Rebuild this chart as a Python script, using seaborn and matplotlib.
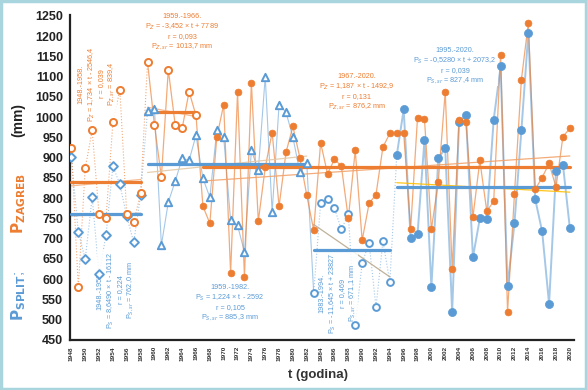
import numpy as np
import pandas as pd
import matplotlib
matplotlib.use("Agg")
import matplotlib.pyplot as plt
import seaborn as sns
from matplotlib.patches import Rectangle

# ---------------- data ----------------
years = list(range(1948, 2021))

zagreb = [923, 580, 874, 967, 760, 750, 987, 1067, 760, 741, 812,
          1135, 980, 852, 1117, 980, 972, 1063, 1004,
          780, 738, 950, 1031, 615, 1061, 605, 1085, 743, 876,
          962, 780, 913, 977, 900, 807, 721, 937, 860, 896,
          879, 750, 918, 696, 787, 809, 926, 960, 960, 960,
          723, 999, 996, 723, 841, 1063, 625, 994, 987, 753,
          893, 768, 792, 1154, 519, 810, 1092, 1232, 822, 851,
          886, 827, 952, 972]

split = [901, 716, 650, 802, 612, 709, 879, 834, 755, 691, 807,
         1016, 1021, 684, 790, 842, 898, 893, 955, 849, 802, 967, 950,
         745, 733, 667, 918, 869, 1100, 765, 1031, 1012, 950, 864, 886,
         566, 787, 799, 775, 723, 760, 487, 640, 690, 531, 694, 593,
         906, 1019, 701, 711, 943, 580, 898, 923, 519, 989, 1004, 654,
         750, 748, 994, 1125, 583, 738, 967, 1208, 797, 718, 539, 866,
         883, 726]

z_periods = [(1948, 1958), (1959, 1966), (1967, 2020)]
z_means = [839.4, 1013.7, 876.2]
s_periods = [(1948, 1958), (1959, 1982), (1983, 1994), (1995, 2020)]
s_means = [762.0, 885.3, 671.1, 827.4]

tick_years = list(range(1948, 2021, 2))
y_ticks = list(range(450, 1251, 50))

ORANGE = "#ED7D31"
BLUE = "#5B9BD5"

z_style = [dict(marker="o", fill=False, ls=":", s=26),
           dict(marker="o", fill=False, ls="-", s=26),
           dict(marker="o", fill=True, ls="-", s=24)]
s_style = [dict(marker="D", fill=False, ls=":", s=20),
           dict(marker="^", fill=False, ls="-", s=28),
           dict(marker="o", fill=False, ls=":", s=24),
           dict(marker="o", fill=True, ls="-", s=34)]
z_trend_col = ["#f4b183", "#f4b183", "#f2a36b"]
s_trend_col = ["#bcbcbc", "#e3c9a6", "#b9a98d", "#ffc000"]

df = pd.DataFrame({"year": years, "zagreb": zagreb, "split": split})

# ---------------- figure ----------------
sns.set_style("white")
plt.rcParams["font.family"] = ["Liberation Sans", "DejaVu Sans"]

W, H = 587, 390
fig = plt.figure(figsize=(W / 100, H / 100), dpi=100)
ax = fig.add_axes([70 / W, 50 / H, (574 - 70) / W, (340 - 15) / H])


def px(x, y):
    return x / W, 1 - y / H


def draw_series(col, periods, styles, means, tcols, color, lw, alpha, z_mk):
    for i, (a, b) in enumerate(periods):
        st = styles[i]
        sub = df[(df.year >= a) & (df.year <= b)]
        line = df[(df.year >= a) & (df.year <= b + 1)]
        sns.lineplot(x=line.year, y=line[col], ax=ax, color=color,
                     lw=lw[i], alpha=alpha, ls=st["ls"], zorder=1)
        sns.regplot(x=sub.year, y=sub[col], ax=ax, scatter=False, ci=None,
                    truncate=True,
                    line_kws=dict(lw=0.9, color=tcols[i], alpha=0.9, zorder=2))
        sns.lineplot(x=[a, b], y=[means[i], means[i]], ax=ax, color=color,
                     lw=2.3, zorder=3.8)
        if st["fill"]:
            sns.scatterplot(x=sub.year, y=sub[col], ax=ax, marker=st["marker"],
                            s=st["s"], facecolor=color, edgecolor=color,
                            linewidth=0.5, zorder=z_mk)
        else:
            sns.scatterplot(x=sub.year, y=sub[col], ax=ax, marker=st["marker"],
                            s=st["s"], facecolor="white", edgecolor=color,
                            linewidth=1.4, zorder=z_mk)


draw_series("split", s_periods, s_style, s_means, s_trend_col, BLUE,
            [0.8, 0.8, 0.8, 1.4], 0.55, 4)
draw_series("zagreb", z_periods, z_style, z_means, z_trend_col, ORANGE,
            [0.8, 0.9, 0.9], 0.65, 5)

ax.set_xlim(1947.8, 2020.6)
ax.set_ylim(450, 1252)
ax.set_xlabel("")
ax.set_ylabel("")
ax.set_yticks(y_ticks)
ax.set_yticklabels([str(v) for v in y_ticks], fontsize=9, fontweight="bold",
                   color="#222222")
ax.set_xticks(tick_years)
ax.set_xticks(years, minor=True)
ax.set_xticklabels([str(v) for v in tick_years], rotation=90, fontsize=4.6,
                   fontweight="bold", color="#333333")
ax.tick_params(axis="y", which="major", direction="out", length=3, width=1,
               pad=2, color="#222222")
ax.tick_params(axis="x", which="both", direction="out", length=2.5, width=0.8,
               pad=2, color="#222222")
for s in ["top", "right"]:
    ax.spines[s].set_visible(False)
for s in ["left", "bottom"]:
    ax.spines[s].set_color("#222222")
    ax.spines[s].set_linewidth(1.6)

# ---------------- axis titles ----------------
fig.text(*px(19, 296), r"$\mathbf{P_{SPLIT}}$;", rotation=90, color=BLUE,
         fontsize=11, ha="center", va="center")
fig.text(*px(19, 204), r"$\mathbf{P_{ZAGREB}}$", rotation=90, color=ORANGE,
         fontsize=11, ha="center", va="center")
fig.text(*px(18, 120), "(mm)", rotation=90, color="#222222", fontsize=10,
         fontweight="bold", ha="center", va="center")
fig.text(*px(318, 375), "t (godina)", color="#333333", fontsize=9.5,
         fontweight="bold", ha="center", va="center")

# ---------------- annotations ----------------
box = dict(fc="white", ec="none", pad=0.8, alpha=0.85)
fs = 5.2


def note(x, y, s, color, rot=0):
    ax.text(*px(x, y), s, transform=fig.transFigure, rotation=rot,
            color=color, fontsize=fs, ha="center", va="center",
            linespacing=1.25, multialignment="center", bbox=box, zorder=3.5,
            clip_on=False)


note(97, 84, "1948.-1958.\nP$_Z$ = 1,734 × t - 2546,4\nr = 0,039\nP$_{Z,sr}$ = 839,4",
     ORANGE, 90)
note(116, 290, "1948.-1958.\nP$_S$ = 8,6490 × t - 16112\nr = 0,224\nP$_{S,sr}$ = 762,0 mm",
     BLUE, 90)
note(182, 32, "1959.-1966.\nP$_Z$ = -3,452 × t + 7789\nr = 0,093\nP$_{Z,sr}$ = 1013,7 mm",
     ORANGE)
note(230, 303, "1959.-1982.\nP$_S$ = 1,224 × t - 2592\nr = 0,105\nP$_{S,sr}$ = 885,3 mm",
     BLUE)
note(357, 92, "1967.-2020.\nP$_Z$ = 1,187 × t - 1492,9\nr = 0,131\nP$_{Z,sr}$ = 876,2 mm",
     ORANGE)
note(338, 293, "1983.-1994.\nP$_S$ = -11,645 × t + 23827\nr = 0,469\nP$_{S,sr}$ = 671,1 mm",
     BLUE, 90)
note(455, 66, "1995.-2020.\nP$_S$ = -0,5280 × t + 2073,2\nr = 0,039\nP$_{S,sr}$ = 827,4 mm",
     BLUE)

# frame around the picture
fig.patches.append(Rectangle((0.002, 0.003), 0.996, 0.994,
                             transform=fig.transFigure, fill=False,
                             edgecolor="#a8d5de", lw=2.5))

fig.savefig("out.png", dpi=100)
